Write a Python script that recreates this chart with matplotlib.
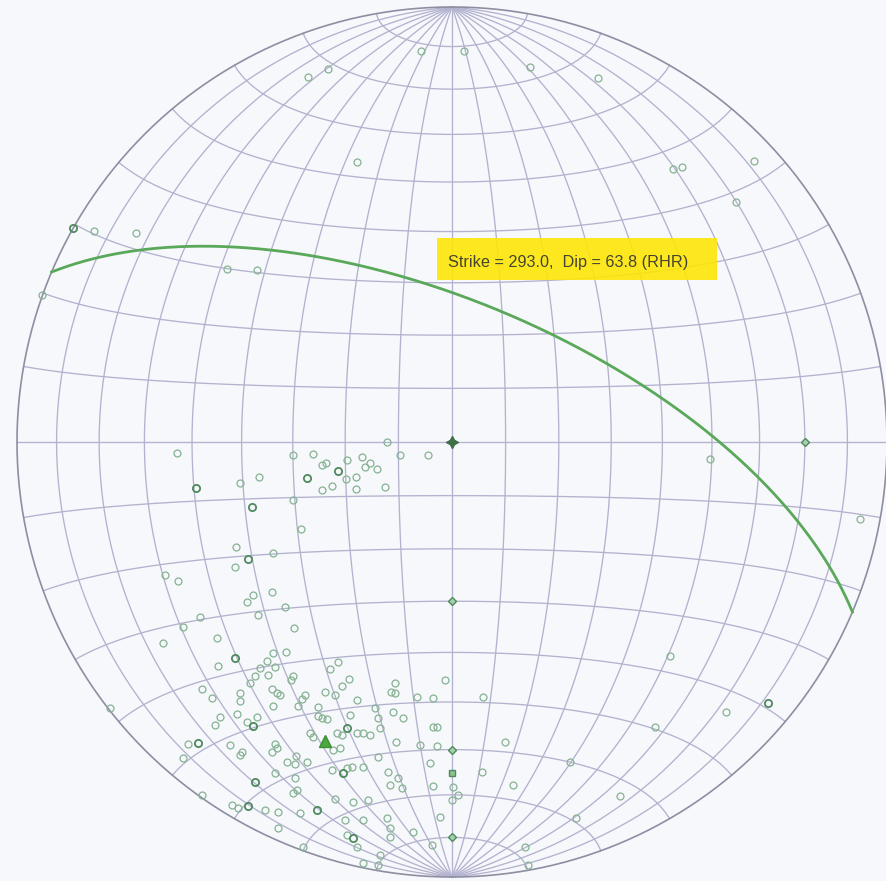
import numpy as np
import matplotlib
matplotlib.use("Agg")
import matplotlib.pyplot as plt
from matplotlib.patches import Rectangle
from matplotlib import font_manager as fm

# ---------------- data ----------------
plane_strike = 293.0          # RHR
plane_dip = 63.8
label_text = "Strike = 293.0,  Dip = 63.8 (RHR)"

pole_east = [-28.5, -33.1, -7.1, 2.8, 17.9, 33.6, -21.9, 50.8, 52.9, 69.5, 65.3, -82.3, -72.7,
             -51.8, -44.9, -94.3, -15.0, 59.3, 93.8, 50.1, -1.6, 7.1, 63.0, 46.7, 12.2, 27.1,
             6.9, 14.0, 38.6, 28.5, 16.8, 17.5, 1.4, 0.2, 0.0, -2.8, -4.6, -4.4, -5.1, -3.5,
             -7.4, -63.3, -36.6, -32.0, -29.9, -29.0, -24.2, -24.4, -20.7, -20.0, -18.9, -17.3,
             -29.9, -27.6, -22.1, -22.1, -15.4, -12.0, -5.5, -48.8, -44.4, -36.6, -34.7, -49.7,
             -41.2, -49.9, -66.0, -63.0, -41.4, -45.8, -47.2, -38.4, -44.6, -58.0, -61.9, -36.3,
             -54.1, -66.5, -41.2, -38.2, -42.6, -40.7, -44.2, -53.8, -42.3, -45.3, -36.6, -37.0,
             -46.5, -26.2, -28.1, -23.7, -25.3, -57.5, -55.2, -48.8, -48.8, -41.4, -40.3, -39.6,
             -33.8, -34.5, -29.2, -26.9, -21.9, -13.1, -14.0, -13.1, -8.1, -4.4, -41.2, -35.4,
             -30.8, -53.4, -49.5, -44.9, -47.2, -54.5, -30.8, -29.9, -28.8, -23.5, -17.7, -17.0,
             -16.6, -13.6, -11.3, -4.4, -3.5, -25.3, -26.5, -21.9, -20.5, -18.9, -32.7, -32.0,
             -60.7, -51.1, -40.7, -40.3, -12.9, -25.8, -48.3, -48.8, -61.9, -41.4, -38.0, -35.9,
             -36.1, -33.4, -27.4, -27.6, -24.2, -23.0, -20.5, -17.0, -14.7, -14.3, -12.4, -11.5,
             -40.7, -57.5, -36.1, -35.7, -36.6, -50.6, -49.2, -43.0, -40.0, -40.0, -35.0, -26.9,
             -22.8, -19.3, -24.6, -20.5, -15.0, -14.3, -14.3, -24.2, -21.9, -34.3, -16.6, -20.5,
             -17.0, -9.0, -78.7]
pole_north = [85.8, 84.0, 89.9, 89.9, 86.3, 83.7, 64.4, 62.8, 63.3, 64.6, 55.2, 48.5, 48.1,
              39.8, 39.6, 33.8, 0.0, -3.9, -17.7, -49.2, -54.7, -58.7, -62.1, -65.6, -69.0, -73.6,
              -75.9, -78.9, -81.4, -86.5, -93.2, -97.3, -81.2, -79.4, -82.3, -86.3, -92.7, -79.1,
              -73.8, -69.9, -69.7, -2.5, -3.0, -2.8, -5.3, -4.8, -4.1, -8.5, -3.5, -5.8, -4.8,
              -6.2, -11.0, -10.1, -8.1, -10.8, -10.4, -3.0, -3.0, -9.4, -8.1, -13.3, -20.0, -24.2,
              -25.5, -28.8, -30.6, -32.0, -34.5, -35.2, -36.8, -38.0, -39.8, -40.3, -42.6, -42.8,
              -45.1, -46.2, -48.5, -48.3, -50.4, -51.8, -52.0, -51.5, -53.6, -53.8, -53.8, -54.7,
              -55.4, -50.6, -52.2, -54.5, -56.1, -56.8, -58.9, -57.7, -59.6, -56.8, -57.7, -58.2,
              -58.2, -59.1, -57.5, -58.2, -59.3, -55.4, -57.5, -57.7, -58.7, -58.9, -60.7, -60.7,
              -61.0, -63.3, -62.6, -63.3, -64.4, -65.1, -63.0, -63.5, -63.7, -62.8, -61.2, -63.5,
              -65.8, -62.1, -63.5, -65.6, -65.6, -67.4, -66.9, -66.9, -66.9, -67.4, -66.9, -67.9,
              -69.5, -69.7, -69.5, -70.4, -69.0, -70.4, -71.3, -72.0, -72.7, -71.3, -73.6, -72.2,
              -74.1, -73.6, -70.8, -75.4, -75.0, -74.8, -74.8, -72.5, -75.9, -78.9, -77.3, -79.6,
              -76.1, -81.2, -77.3, -80.0, -80.7, -83.5, -84.2, -84.6, -85.1, -88.8, -85.3, -82.1,
              -82.8, -82.3, -86.9, -86.9, -86.5, -88.8, -90.9, -90.4, -93.2, -93.2, -95.0, -96.8,
              -97.3, -89.7, -61.2]

# heavier (overlapping) poles
dark_east = [-87.2, 72.7, -26.2, -33.4, -58.9, -46.0, -46.9, -49.9, -45.8, -24.2, -58.4,
             -25.1, -45.3, -46.9, -31.1, -22.8]
dark_north = [49.2, -60.0, -6.7, -8.3, -10.6, -15.0, -26.9, -49.7, -65.3, -65.8, -69.2,
              -76.1, -78.2, -83.7, -84.6, -91.1]

# lines plotted as trend / plunge
diamond_trend = [90, 180, 180, 180]
diamond_plunge = [20, 60, 30, 10]
square_trend = [180]
square_plunge = [25]
vertical_trend = [0]
vertical_plunge = [90]

# ---------------- helpers ----------------
def to_net(e, n, d):
    s = 1.0 / np.sqrt(1.0 + np.asarray(d))
    return np.asarray(e) * s, np.asarray(n) * s

def line_vec(trend, plunge):
    t = np.radians(np.asarray(trend, float))
    p = np.radians(np.asarray(plunge, float))
    return np.sin(t) * np.cos(p), np.cos(t) * np.cos(p), np.sin(p)

# ---------------- figure ----------------
W, H = 886, 881
R, CX, CY = 435.0, 452.0, 442.0
bg = "#f6f8fb"
fig = plt.figure(figsize=(W / 100, H / 100), dpi=100, facecolor=bg)
ax = fig.add_axes([0, 0, 1, 1])
ax.set_facecolor(bg)
ax.set_xlim(-CX / R, (W - CX) / R)
ax.set_ylim(-(H - CY) / R, CY / R)
ax.axis("off")

grid_col = "#b3b2cf"
# meridians (great circles through N and S)
phi = np.radians(np.linspace(-90, 90, 361))
for lam_d in range(-80, 81, 10):
    lam = np.radians(lam_d)
    e = np.cos(phi) * np.sin(lam)
    n = np.sin(phi)
    d = np.cos(phi) * np.cos(lam)
    x, y = to_net(e, n, d)
    ax.plot(x, y, color=grid_col, lw=0.95, zorder=1)
# small circles (latitudes)
lam = np.radians(np.linspace(-90, 90, 361))
for phi_d in range(-80, 81, 10):
    ph = np.radians(phi_d)
    e = np.cos(ph) * np.sin(lam)
    n = np.full_like(lam, np.sin(ph))
    d = np.cos(ph) * np.cos(lam)
    x, y = to_net(e, n, d)
    ax.plot(x, y, color=grid_col, lw=0.95, zorder=1)
# primitive
th = np.linspace(0, 2 * np.pi, 721)
ax.plot(np.cos(th), np.sin(th), color="#8e8ea2", lw=1.2, zorder=1.5)

# poles
pe = np.asarray(pole_east) / 100.0
pn = np.asarray(pole_north) / 100.0
ax.plot(pe, pn, "o", ls="none", ms=5, mfc="none", mec="#86b292", mew=0.9, zorder=3)
de = np.asarray(dark_east) / 100.0
dn = np.asarray(dark_north) / 100.0
ax.plot(de, dn, "o", ls="none", ms=5.2, mfc="none", mec="#4f8a5e", mew=1.3, zorder=3)

# lines on the axes of the net
x, y = to_net(*line_vec(diamond_trend, diamond_plunge))
ax.plot(x, y, "D", ls="none", ms=4, mfc="#a6cfae", mec="#4f8a5e", mew=1.0, zorder=4)
x, y = to_net(*line_vec(square_trend, square_plunge))
ax.plot(x, y, "s", ls="none", ms=5, mfc="#8cc38e", mec="#4f8a5e", mew=1.0, zorder=4)
x, y = to_net(*line_vec(vertical_trend, vertical_plunge))
ax.plot(x, y, marker=(4, 1, 0), ls="none", ms=9, mfc="#3f6f49", mec="#3f6f49", mew=0.8, zorder=4)

# great circle of the plane
dd = plane_strike + 90.0
s_vec = np.array(line_vec(plane_strike, 0.0))
d_vec = np.array(line_vec(dd, plane_dip))
t = np.linspace(0, np.pi, 400)
pts = np.outer(s_vec, np.cos(t)) + np.outer(d_vec, np.sin(t))
gx, gy = to_net(pts[0], pts[1], np.clip(pts[2], 0, None))
ax.plot(gx, gy, color="#5aa85a", lw=2.0, zorder=5)

# pole to the plane
x, y = to_net(*line_vec(dd + 180.0, 90.0 - plane_dip))
ax.plot(x, y, "^", ls="none", ms=9, mfc="#4caa3c", mec="#3d8f33", zorder=6)

# label box
names = {f.name for f in fm.fontManager.ttflist}
fam = "Liberation Sans" if "Liberation Sans" in names else "DejaVu Sans"
ax.add_patch(Rectangle((437 / W, 1 - 280 / H), 280 / W, 42 / H, transform=ax.transAxes,
                       facecolor="#ffe600", edgecolor="none", alpha=0.88, zorder=7))
ax.text(448 / W, 1 - 263 / H, label_text, transform=ax.transAxes, ha="left", va="center",
        fontsize=11.7, family=fam, color="#45452f", zorder=8)

fig.savefig("out.png", dpi=100, facecolor=bg)
